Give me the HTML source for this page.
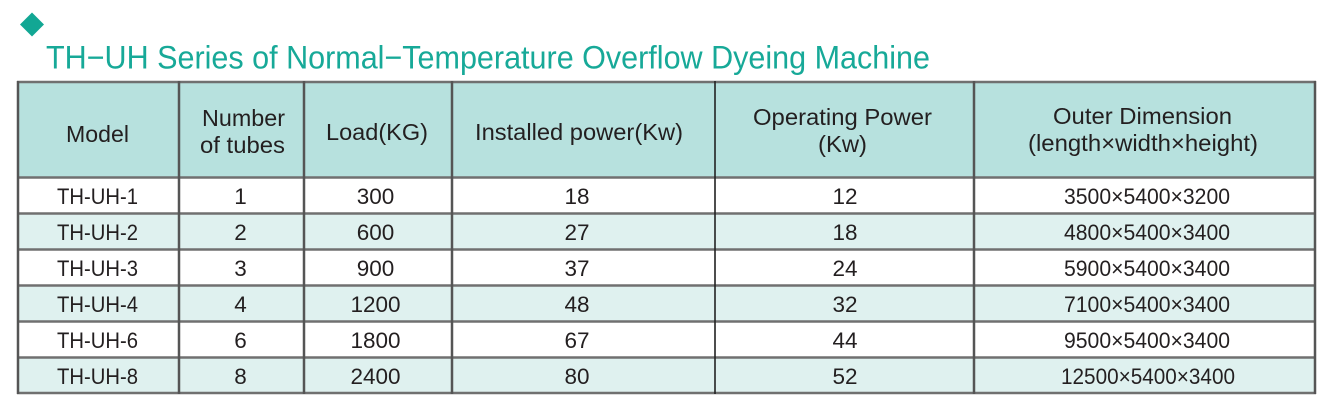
<!DOCTYPE html>
<html>
<head>
<meta charset="utf-8">
<style>
  html,body{margin:0;padding:0;background:#fff;}
  svg{display:block;}
  text{font-family:"Liberation Sans",Arial,sans-serif;}
</style>
</head>
<body>
<svg width="1334" height="408" viewBox="0 0 1334 408" xmlns="http://www.w3.org/2000/svg">
  <rect x="0" y="0" width="1334" height="408" fill="#ffffff"/>
  <!-- diamond -->
  <polygon points="32,12.5 44,24.5 32,36.5 20,24.5" fill="#12a794"/>
  <!-- title -->
  <text x="46" y="68.5" font-size="32.5" fill="#17a998" textLength="884" lengthAdjust="spacingAndGlyphs">TH−UH Series of Normal−Temperature Overflow Dyeing Machine</text>

  <!-- fills -->
  <rect x="18" y="82" width="1297" height="96" fill="#b7e1de"/>
  <rect x="1294" y="176" width="19" height="5" fill="#b7e1de"/>
  <rect x="18" y="178" width="1297" height="36" fill="#ffffff"/>
  <rect x="18" y="214" width="1297" height="36" fill="#dff1ef"/>
  <rect x="18" y="250" width="1297" height="36" fill="#ffffff"/>
  <rect x="18" y="286" width="1297" height="36" fill="#dff1ef"/>
  <rect x="18" y="322" width="1297" height="36" fill="#ffffff"/>
  <rect x="18" y="358" width="1297" height="35" fill="#dff1ef"/>

  <!-- horizontal lines -->
  <g stroke="#707070" stroke-width="2.5">
    <line x1="17" y1="82" x2="1316" y2="82"/>
    <line x1="17" y1="177.5" x2="1316" y2="177.5"/>
    <line x1="17" y1="213.5" x2="1316" y2="213.5"/>
    <line x1="17" y1="249.5" x2="1316" y2="249.5"/>
    <line x1="17" y1="285.5" x2="1316" y2="285.5"/>
    <line x1="17" y1="321.5" x2="1316" y2="321.5"/>
    <line x1="17" y1="357.5" x2="1316" y2="357.5"/>
    <line x1="17" y1="393" x2="1316" y2="393"/>
  </g>
  <!-- vertical lines -->
  <g stroke="#555" stroke-width="2.5">
    <line x1="18" y1="81" x2="18" y2="394"/>
    <line x1="179" y1="81" x2="179" y2="394"/>
    <line x1="304" y1="81" x2="304" y2="394"/>
    <line x1="452" y1="81" x2="452" y2="394"/>
    <line x1="974" y1="81" x2="974" y2="394"/>
    <line x1="1315" y1="81" x2="1315" y2="394"/>
  </g>
  <line x1="715" y1="81" x2="715" y2="394" stroke="#222" stroke-width="1.6"/>

  <!-- header text -->
  <g fill="#231f20" font-size="23" text-anchor="middle">
    <text x="97.5" y="142" textLength="63" lengthAdjust="spacingAndGlyphs">Model</text>
    <text x="243.5" y="126" textLength="83" lengthAdjust="spacingAndGlyphs">Number</text>
    <text x="242.5" y="153" textLength="85" lengthAdjust="spacingAndGlyphs">of tubes</text>
    <text x="377" y="140" textLength="102" lengthAdjust="spacingAndGlyphs">Load(KG)</text>
    <text x="579" y="140" textLength="208" lengthAdjust="spacingAndGlyphs">Installed power(Kw)</text>
    <text x="842.5" y="125" textLength="179" lengthAdjust="spacingAndGlyphs">Operating Power</text>
    <text x="842.5" y="152" textLength="49" lengthAdjust="spacingAndGlyphs">(Kw)</text>
    <text x="1142.5" y="124" textLength="179" lengthAdjust="spacingAndGlyphs">Outer Dimension</text>
    <text x="1143" y="151" textLength="230" lengthAdjust="spacingAndGlyphs">(length×width×height)</text>
  </g>

  <!-- body text -->
  <g fill="#231f20" font-size="22.5" text-anchor="middle">
    <text x="97.5" y="204" textLength="81" lengthAdjust="spacingAndGlyphs">TH-UH-1</text>
    <text x="240.5" y="204">1</text>
    <text x="375.5" y="204">300</text>
    <text x="577" y="204">18</text>
    <text x="845" y="204">12</text>
    <text x="1147" y="204" textLength="166" lengthAdjust="spacingAndGlyphs">3500×5400×3200</text>

    <text x="97.5" y="240" textLength="81" lengthAdjust="spacingAndGlyphs">TH-UH-2</text>
    <text x="240.5" y="240">2</text>
    <text x="375.5" y="240">600</text>
    <text x="577" y="240">27</text>
    <text x="845" y="240">18</text>
    <text x="1147" y="240" textLength="166" lengthAdjust="spacingAndGlyphs">4800×5400×3400</text>

    <text x="97.5" y="276" textLength="81" lengthAdjust="spacingAndGlyphs">TH-UH-3</text>
    <text x="240.5" y="276">3</text>
    <text x="375.5" y="276">900</text>
    <text x="577" y="276">37</text>
    <text x="845" y="276">24</text>
    <text x="1147" y="276" textLength="166" lengthAdjust="spacingAndGlyphs">5900×5400×3400</text>

    <text x="97.5" y="312" textLength="81" lengthAdjust="spacingAndGlyphs">TH-UH-4</text>
    <text x="240.5" y="312">4</text>
    <text x="375.5" y="312">1200</text>
    <text x="577" y="312">48</text>
    <text x="845" y="312">32</text>
    <text x="1147" y="312" textLength="166" lengthAdjust="spacingAndGlyphs">7100×5400×3400</text>

    <text x="97.5" y="348" textLength="81" lengthAdjust="spacingAndGlyphs">TH-UH-6</text>
    <text x="240.5" y="348">6</text>
    <text x="375.5" y="348">1800</text>
    <text x="577" y="348">67</text>
    <text x="845" y="348">44</text>
    <text x="1147" y="348" textLength="166" lengthAdjust="spacingAndGlyphs">9500×5400×3400</text>

    <text x="97.5" y="384" textLength="81" lengthAdjust="spacingAndGlyphs">TH-UH-8</text>
    <text x="240.5" y="384">8</text>
    <text x="375.5" y="384">2400</text>
    <text x="577" y="384">80</text>
    <text x="845" y="384">52</text>
    <text x="1148" y="384" textLength="174" lengthAdjust="spacingAndGlyphs">12500×5400×3400</text>
  </g>
</svg>
</body>
</html>
